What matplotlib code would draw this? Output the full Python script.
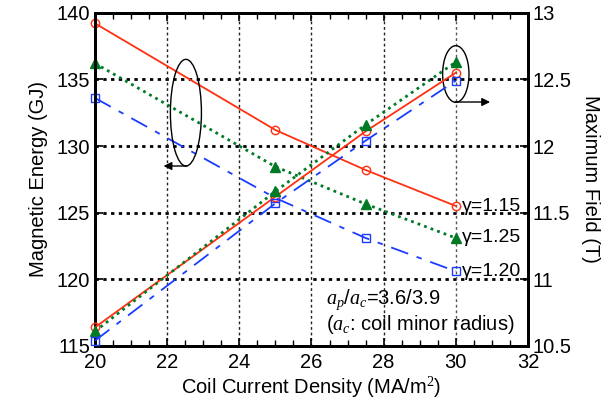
import matplotlib
matplotlib.use("Agg")
import matplotlib.pyplot as plt
from matplotlib.patches import Ellipse

plt.rcParams['font.family'] = ['Liberation Sans', 'DejaVu Sans']
plt.rcParams['mathtext.fontset'] = 'custom'
plt.rcParams['mathtext.it'] = 'Liberation Serif:italic'
plt.rcParams['mathtext.rm'] = 'Liberation Serif'

density = [20, 25, 27.5, 30]

energy_g115 = [139.2, 131.2, 128.2, 125.5]
energy_g125 = [136.2, 128.45, 125.65, 123.1]
energy_g120 = [133.6, 126.1, 123.1, 120.6]

field_g115 = [10.64, 11.62, 12.11, 12.55]
field_g125 = [10.61, 11.66, 12.16, 12.63]
field_g120 = [10.54, 11.57, 12.04, 12.49]

labels = ["γ=1.15", "γ=1.25", "γ=1.20"]

red = '#ff3010'
green = '#007a25'
blue = '#1a3cff'

fig = plt.figure(figsize=(6.16, 4.08), dpi=100)
ax = fig.add_axes([0.1542, 0.152, 0.7029, 0.8169])
ax2 = ax.twinx()

ax.set_xlim(20, 32)
ax.set_ylim(115, 140)
ax2.set_ylim(10.5, 13)

# grid
for y in [120, 125, 130, 135]:
    ax.axhline(y, color='black', lw=2.0, ls=(0, (1.2, 1.6)), zorder=1)
for x in [22, 24, 26, 28, 30]:
    c = '#555555' if x == 30 else '#222222'
    ax.axvline(x, color=c, lw=1.0, ls=(0, (2, 2)), zorder=1)

dashdot = (0, (10, 5, 3, 5))
dotted = (0, (1, 1.5))

ax.plot(density, energy_g115, color=red, lw=1.3, ls='-', marker='o', ms=6,
        mfc='none', mec=red, mew=1.0, clip_on=False, zorder=3)
ax.plot(density, energy_g125, color=green, lw=2.0, ls=dotted, marker='^', ms=6.5,
        mfc=green, mec=green, clip_on=False, zorder=3)
ax.plot(density, energy_g120, color=blue, lw=1.3, ls=dashdot, marker='s', ms=5.5,
        mfc='none', mec=blue, mew=1.0, clip_on=False, zorder=3)

ax2.plot(density, field_g115, color=red, lw=1.3, ls='-', marker='o', ms=6,
         mfc='none', mec=red, mew=1.0, clip_on=False, zorder=3)
ax2.plot(density, field_g125, color=green, lw=2.0, ls=dotted, marker='^', ms=6.5,
         mfc=green, mec=green, clip_on=False, zorder=3)
ax2.plot(density, field_g120, color=blue, lw=1.3, ls=dashdot, marker='s', ms=5.5,
         mfc='none', mec=blue, mew=1.0, clip_on=False, zorder=3)

# gamma labels
for yv, lab in zip([energy_g115[-1], energy_g125[-1], energy_g120[-1]], labels):
    ax.text(30.18, yv, lab, fontsize=14, va='center', ha='left', zorder=4)

# ellipses and arrows
ax.add_patch(Ellipse((22.52, 132.5), 0.86, 8.0, fill=False, ec='black', lw=1.0, zorder=4))
ax.annotate('', xy=(21.9, 128.5), xytext=(22.55, 128.5),
            arrowprops=dict(arrowstyle='-|>', color='black', lw=1.0,
                            mutation_scale=12, shrinkA=0, shrinkB=0), zorder=4)
ax.add_patch(Ellipse((30.0, 135.4), 0.73, 4.25, fill=False, ec='black', lw=1.0, zorder=4))
ax.annotate('', xy=(30.95, 133.3), xytext=(29.98, 133.3),
            arrowprops=dict(arrowstyle='-|>', color='black', lw=1.0,
                            mutation_scale=12, shrinkA=0, shrinkB=0), zorder=4)

ax.text(26.4, 118.45, r'$a_p$/$a_c$=3.6/3.9', fontsize=14.5, ha='left', va='center')
ax.text(26.4, 116.6, r'($a_c$: coil minor radius)', fontsize=14.5, ha='left', va='center')

# ticks
ax.set_xticks([20, 22, 24, 26, 28, 30, 32])
ax.set_xticks([20 + 0.5 * i for i in range(25)], minor=True)
ax.set_yticks([115, 120, 125, 130, 135, 140])
ax2.set_yticks([10.5, 11, 11.5, 12, 12.5, 13])
ax2.set_yticklabels(['10.5', '11', '11.5', '12', '12.5', '13'])
ax.tick_params(axis='x', which='both', direction='in', top=True, bottom=True, labelsize=14.5, pad=5)
ax.tick_params(axis='x', which='major', length=6, width=1.2)
ax.tick_params(axis='x', which='minor', length=4, width=1.0)
ax.tick_params(axis='y', which='both', direction='in', left=True, right=False, labelsize=14.5, length=6, width=1.2)
ax2.tick_params(axis='y', direction='in', labelsize=14.5, length=6, width=1.2)

for a in (ax, ax2):
    for s in a.spines.values():
        s.set_linewidth(2.0)

ax.set_xlabel('Coil Current Density (MA/m$^2$)', fontsize=14.5, labelpad=2)
ax.set_ylabel('Magnetic Energy (GJ)', fontsize=14.5, labelpad=6)
ax2.set_ylabel('Maximum Field (T)', fontsize=14.5, rotation=270, labelpad=20)

fig.savefig('out.png', dpi=100)
